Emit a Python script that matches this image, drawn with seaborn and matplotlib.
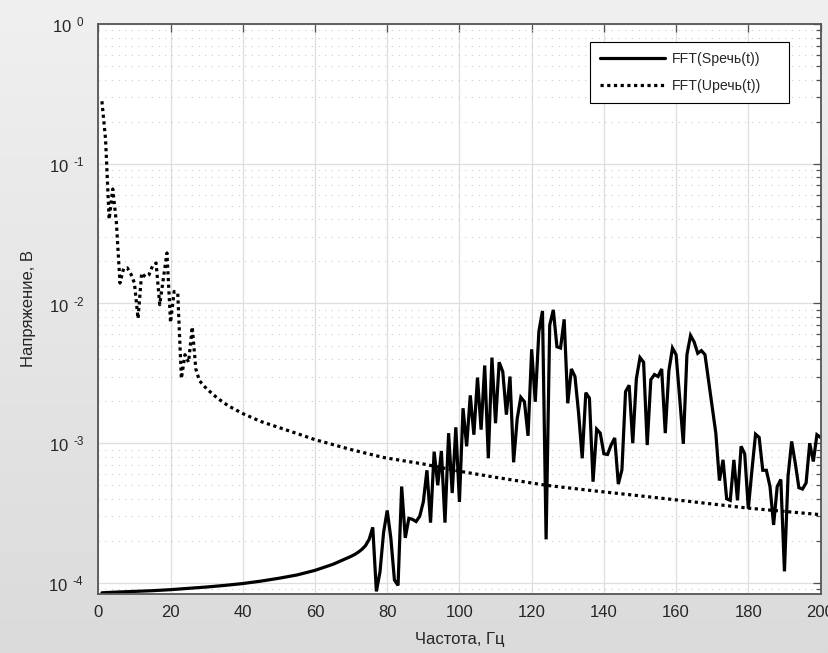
import numpy as np
import pandas as pd
import matplotlib
matplotlib.use("Agg")
import matplotlib.pyplot as plt
from matplotlib.colors import LinearSegmentedColormap
from matplotlib.ticker import FixedLocator, FixedFormatter, LogLocator, NullLocator, NullFormatter
import seaborn as sns

# ---------------- data ----------------
freq_s = [1, 5, 10, 15, 20, 25, 30, 35, 40, 45, 50, 55, 60, 65, 70,
          71, 72, 73, 74, 75, 76, 77, 78, 79, 80, 81, 82, 83, 84, 85,
          86, 87, 88, 89, 90, 91, 92, 93, 94, 95, 96, 97, 98, 99, 100,
          101, 102, 103, 104, 105, 106, 107, 108, 109, 110, 111, 112, 113, 114, 115,
          116, 117, 118, 119, 120, 121, 122, 123, 124, 125, 126, 127, 128, 129, 130,
          131, 132, 133, 134, 135, 136, 137, 138, 139, 140, 141, 142, 143, 144, 145,
          146, 147, 148, 149, 150, 151, 152, 153, 154, 155, 156, 157, 158, 159, 160,
          161, 162, 163, 164, 165, 166, 167, 168, 169, 170, 171, 172, 173, 174, 175,
          176, 177, 178, 179, 180, 181, 182, 183, 184, 185, 186, 187, 188, 189, 190,
          191, 192, 193, 194, 195, 196, 197, 198, 199, 200]
amp_s = [8.5e-5, 8.6e-5, 8.7e-5, 8.8e-5, 8.95e-5, 9.15e-5, 9.35e-5, 9.6e-5, 9.9e-5, 1.03e-4,
         1.08e-4, 1.14e-4, 1.23e-4, 1.36e-4, 1.55e-4,
         1.6e-4, 1.66e-4, 1.74e-4, 1.85e-4, 2.05e-4, 2.5e-4, 8.7e-5, 1.2e-4, 2.3e-4, 3.3e-4,
         2.1e-4, 1.05e-4, 9.6e-5, 4.9e-4, 2.1e-4,
         2.9e-4, 2.85e-4, 2.75e-4, 3.0e-4, 3.8e-4, 6.4e-4, 2.7e-4, 8.7e-4, 5.0e-4, 8.8e-4,
         2.7e-4, 1.18e-3, 4.4e-4, 1.3e-3, 3.8e-4,
         1.78e-3, 9.5e-4, 2.2e-3, 1.15e-3, 2.95e-3, 1.25e-3, 3.6e-3, 7.8e-4, 4.1e-3, 1.39e-3,
         3.8e-3, 3.25e-3, 1.6e-3, 3.0e-3, 7.3e-4,
         1.5e-3, 2.13e-3, 1.98e-3, 1.13e-3, 4.7e-3, 1.98e-3, 6.3e-3, 8.85e-3, 2.05e-4, 7.0e-3,
         9.0e-3, 4.9e-3, 4.8e-3, 7.7e-3, 1.93e-3,
         3.4e-3, 3.0e-3, 1.64e-3, 7.8e-4, 2.3e-3, 2.1e-3, 5.3e-4, 1.26e-3, 1.18e-3, 8.4e-4,
         8.3e-4, 9.7e-4, 1.09e-3, 5.1e-4, 6.45e-4,
         2.34e-3, 2.6e-3, 1.0e-3, 2.9e-3, 4.1e-3, 3.8e-3, 9.7e-4, 2.85e-3, 3.1e-3, 3.0e-3,
         3.4e-3, 1.18e-3, 3.3e-3, 4.8e-3, 4.3e-3,
         2.1e-3, 9.9e-4, 4.3e-3, 5.9e-3, 5.3e-3, 4.4e-3, 4.6e-3, 4.3e-3, 2.8e-3, 1.8e-3,
         1.18e-3, 5.4e-4, 7.6e-4, 4.0e-4, 3.9e-4,
         7.6e-4, 3.9e-4, 9.5e-4, 8.4e-4, 3.4e-4, 6.4e-4, 1.16e-3, 1.1e-3, 6.4e-4, 6.4e-4,
         4.9e-4, 2.6e-4, 4.9e-4, 5.5e-4, 1.21e-4,
         5.8e-4, 1.03e-3, 7.2e-4, 4.8e-4, 4.7e-4, 5.2e-4, 1.0e-3, 7.4e-4, 1.15e-3, 1.1e-3]

freq_u = [1, 2, 3, 4, 5, 6, 7, 8, 9, 10, 11, 12, 13, 14, 15, 16, 17, 18, 19, 20,
          21, 22, 23, 24, 25, 26, 27, 28, 30, 33, 36, 40, 45, 51, 56, 60, 70, 79,
          90, 100, 110, 124, 136, 150, 160, 180, 200]
amp_u = [0.28, 0.15, 0.040, 0.066, 0.038, 0.014, 0.0178, 0.018, 0.0163, 0.014,
         0.0078, 0.0165, 0.0155, 0.016, 0.0185, 0.0195, 0.0098, 0.0150, 0.023, 0.0073,
         0.0122, 0.0118, 0.0029, 0.0043, 0.0038, 0.0068, 0.0034, 0.0028, 2.45e-3, 2.1e-3,
         1.85e-3, 1.63e-3, 1.43e-3, 1.27e-3, 1.15e-3, 1.06e-3, 9.0e-4, 7.9e-4,
         7.1e-4, 6.3e-4, 5.7e-4, 5.0e-4, 4.6e-4, 4.2e-4, 3.93e-4, 3.43e-4, 3.08e-4]

label_s = "FFT(Sречь(t))"
label_u = "FFT(Uречь(t))"
xticks = [0, 20, 40, 60, 80, 100, 120, 140, 160, 180, 200]
ytick_exp = [-4, -3, -2, -1, 0]
xlabel = "Частота, Гц"
ylabel = "Напряжение, В"

# ---------------- style ----------------
sns.set_theme(style="white")
plt.rcParams["font.family"] = ["Liberation Sans", "DejaVu Sans"]
plt.rcParams["mathtext.fontset"] = "custom"
plt.rcParams["mathtext.rm"] = "Liberation Sans"
plt.rcParams["mathtext.it"] = "Liberation Sans:italic"
plt.rcParams["mathtext.bf"] = "Liberation Sans:bold"

fig = plt.figure(figsize=(8.29, 6.53), dpi=100)

# grey gradient background
bg = fig.add_axes([0, 0, 1, 1], zorder=-10)
grad = np.linspace(0, 1, 256).reshape(-1, 1)
cmap = LinearSegmentedColormap.from_list("bg", ["#f0f0f0", "#dbdbdb"])
bg.imshow(grad, cmap=cmap, aspect="auto", extent=[0, 1, 0, 1])
bg.set_axis_off()

ax = fig.add_axes([0.1186, 0.0911, 0.8712, 0.8721])
ax.set_facecolor("white")

df_s = pd.DataFrame({"f": freq_s, "a": amp_s})
df_u = pd.DataFrame({"f": freq_u, "a": amp_u})

sns.lineplot(data=df_s, x="f", y="a", ax=ax, color="black", lw=2.3,
             estimator=None, label=label_s, solid_joinstyle="miter")
sns.lineplot(data=df_u, x="f", y="a", ax=ax, color="black", lw=2.3,
             estimator=None, label=label_u, linestyle=(0, (1, 1.1)),
             dash_capstyle="butt")

ax.set_yscale("log")
ax.set_xlim(0, 200)
ax.set_ylim(8.4e-5, 1)

ax.xaxis.set_major_locator(FixedLocator(xticks))
ax.xaxis.set_major_formatter(FixedFormatter([str(t) for t in xticks]))
ax.xaxis.set_minor_locator(NullLocator())


def exp_label(e):
    s = str(e).replace("-", "\u2010")
    return r"$\mathregular{10^{\;\;%s}}$" % s


ax.yaxis.set_major_locator(FixedLocator([10.0 ** e for e in ytick_exp]))
ax.yaxis.set_major_formatter(FixedFormatter([exp_label(e) for e in ytick_exp]))
ax.yaxis.set_minor_locator(LogLocator(base=10, subs=np.arange(2, 10), numticks=20))
ax.yaxis.set_minor_formatter(NullFormatter())

ax.grid(True, which="major", color="#dedede", lw=0.9, ls="-")
ax.grid(True, which="minor", axis="y", color="#cccccc", lw=0.8, ls=(0, (1, 5)))
ax.set_axisbelow(True)

ax.tick_params(which="both", direction="in", top=True, right=True,
               color="#505050", width=0.9, labelsize=12, labelcolor="#262626")
ax.tick_params(which="major", length=6)
ax.tick_params(axis="x", which="major", pad=8)
ax.tick_params(axis="y", which="major", pad=10)
ax.tick_params(which="minor", length=3.5)

for sp in ax.spines.values():
    sp.set_color("#555555")
    sp.set_linewidth(1.3)

ax.set_xlabel(xlabel, fontsize=12, color="#262626", labelpad=9)
ax.set_ylabel(ylabel, fontsize=12, color="#262626", labelpad=9)

leg = ax.legend(loc="upper left", bbox_to_anchor=(0.6808, 0.5, 0.2756, 0.469),
                mode="expand", borderaxespad=0, fontsize=10.2, handlelength=4.6,
                handletextpad=0.5, frameon=True, fancybox=False, framealpha=1,
                edgecolor="black", labelspacing=0.95, borderpad=0.7)
leg.get_frame().set_linewidth(0.8)

fig.savefig("out.png", dpi=100)
